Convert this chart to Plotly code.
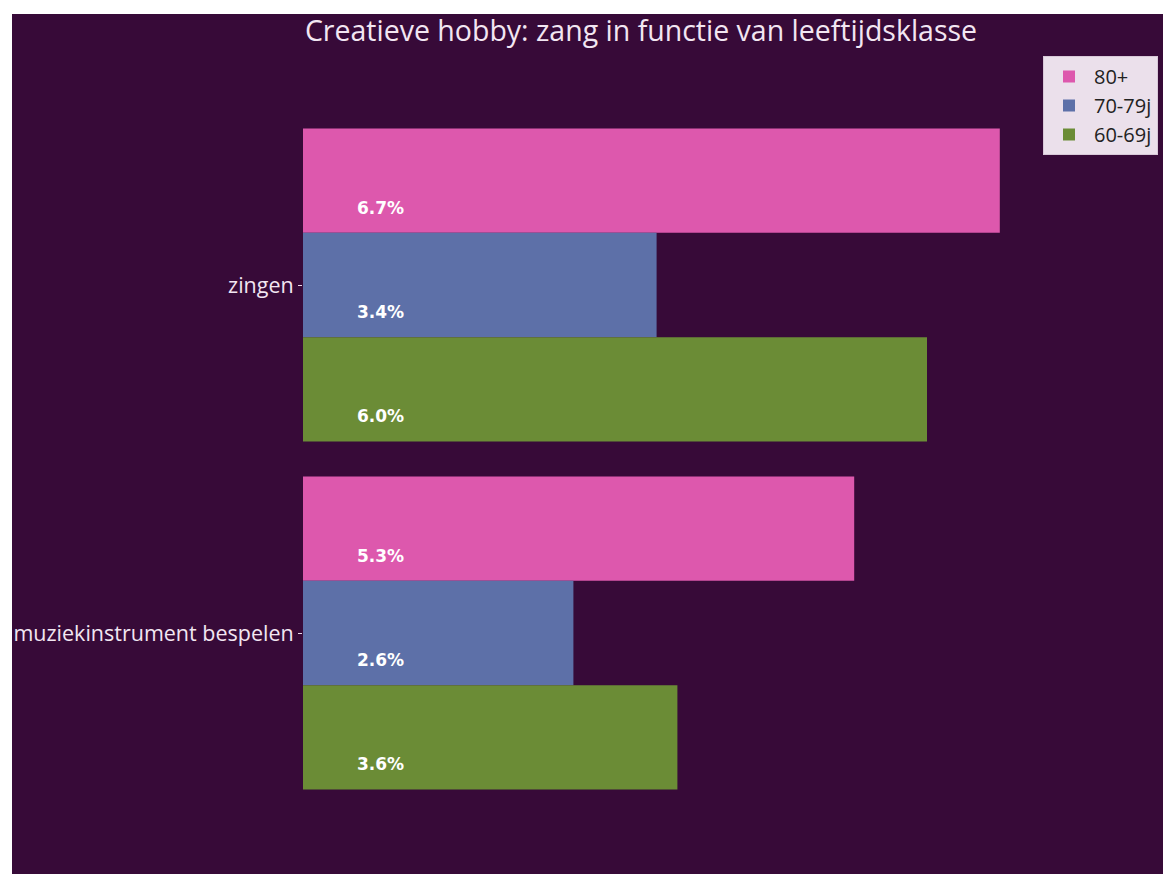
import plotly.graph_objects as go

categories = ["zingen", "muziekinstrument bespelen"]
series_names = ["80+", "70-79j", "60-69j"]
values_80 = [6.7, 5.3]
values_70 = [3.4, 2.6]
values_60 = [6.0, 3.6]
colors = ["#dd58ad", "#5d70a8", "#6b8c36"]

# page has an 8px body margin; size the figure to fill the rest of the window
OFF = 8
W, H = 1171 - OFF, 874 - OFF
ml, mr, mt, mb = 303 - OFF, 10, 111 - OFF, 67
plot_w = W - ml - mr
plot_h = H - mt - mb
px_per_unit = 104.0
bargap = 0.1

fig = go.Figure()
all_vals = [values_80, values_70, values_60]
for name, vals, col in zip(series_names, all_vals, colors):
    fig.add_trace(go.Bar(
        y=categories, x=vals, name=name, orientation="h",
        marker=dict(color=col, line=dict(width=0)),
        legendgroup=name, hoverinfo="skip",
    ))

cat_px = plot_h / len(categories)
bar_px = cat_px * (1 - bargap) / len(series_names)
annotations = []
for i, vals in enumerate(all_vals):
    for cat, v in zip(categories, vals):
        annotations.append(dict(
            x=0.5, y=cat, xref="x", yref="y",
            text=f"<b>{v:.1f}%</b>", showarrow=False,
            xanchor="left", yanchor="middle",
            yshift=-((i - 1) * bar_px + 27),
            font=dict(family="DejaVu Sans", size=17, color="#ffffff"),
        ))

fig.update_layout(
    width=W, height=H,
    margin=dict(l=ml, r=mr, t=mt, b=mb, pad=0, autoexpand=False),
    paper_bgcolor="#ffffff",
    plot_bgcolor="rgba(0,0,0,0)",
    barmode="group", bargap=bargap, bargroupgap=0,
    title=dict(
        text="Creatieve hobby: zang in functie van leeftijdsklasse",
        x=(641 - OFF) / W, xanchor="center", xref="container",
        y=1 - (31 - OFF) / H, yanchor="middle", yref="container",
        font=dict(family="Open Sans", size=28.5, color="#f2e6f2"),
    ),
    xaxis=dict(range=[0, plot_w / px_per_unit], showticklabels=False,
               showgrid=False, zeroline=False, showline=False, ticks="",
               automargin=False),
    yaxis=dict(autorange="reversed", showgrid=False, zeroline=False,
               showline=False, ticks="outside", ticklen=4, tickwidth=1,
               tickcolor="#e8d8e8", ticklabelstandoff=0, automargin=False,
               tickfont=dict(family="Open Sans", size=21.5, color="#f2e6f2")),
    legend=dict(
        x=(1043 - 303) / plot_w, y=(807 - 56) / plot_h,
        xanchor="left", yanchor="top",
        bgcolor="#ebe0eb", bordercolor="#d8c8d8", borderwidth=1,
        font=dict(family="Open Sans", size=20, color="#222222"),
        traceorder="normal", itemwidth=40, tracegroupgap=10,
    ),
    annotations=annotations,
    shapes=[dict(
        type="rect", xref="paper", yref="paper", layer="below",
        x0=(12 - 303) / plot_w, x1=(1171 - 303) / plot_w,
        y0=(807 - 874) / plot_h, y1=(807 - 14) / plot_h,
        fillcolor="#370a38", line=dict(width=0),
    )],
)

fig.write_html("out.html")
